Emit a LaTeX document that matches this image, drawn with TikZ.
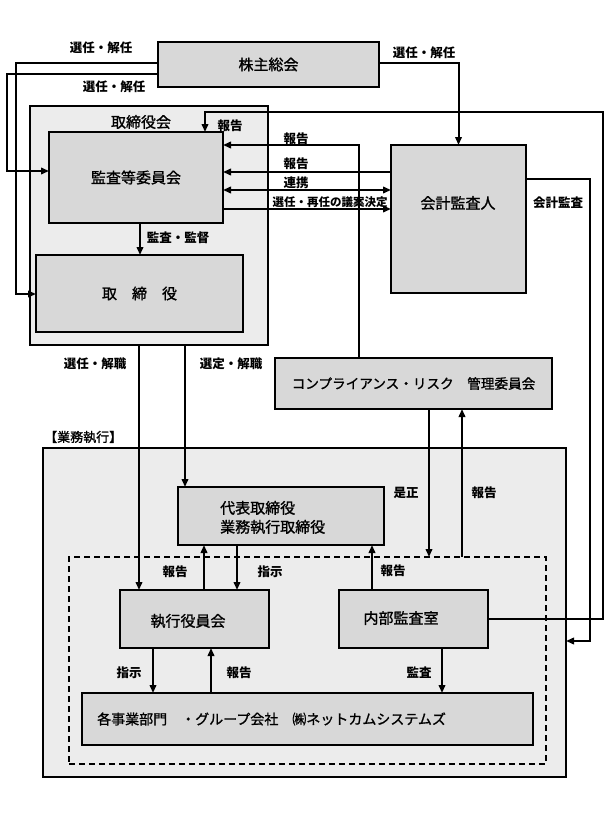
\documentclass[tikz,border=0pt]{standalone}
\usepackage{fontspec}
\setmainfont{Noto Sans CJK JP}
\newfontfamily\boxfont[FakeBold=1.2]{Noto Sans CJK JP}
\usetikzlibrary{arrows.meta}
\definecolor{boxgray}{HTML}{D8D8D8}
\definecolor{panelgray}{HTML}{ECECEC}
\begin{document}
\begin{tikzpicture}[x=1pt,y=-1pt,
  box/.style={draw=black, line width=2.4pt, fill=boxgray, inner sep=0pt, outer sep=0pt, font=\boxfont\fontsize{15}{19}\selectfont},
  panel/.style={draw=black, line width=2.4pt, fill=panelgray, inner sep=0pt, outer sep=0pt},
  conn/.style={line width=2pt, -{Triangle[length=8pt,width=6.5pt]}},
  lbl/.style={font=\bfseries\fontsize{12.5}{14}\selectfont, inner sep=0pt},
  big/.style={font=\boxfont\fontsize{15}{19}\selectfont, inner sep=0pt},
  ]
\useasboundingbox (0,0) rectangle (614,819);

% panels
\node[panel, minimum width=238, minimum height=239] (torikai) at (149,225.5) {};
\node[panel, minimum width=523, minimum height=329] (gyomu) at (304.5,612.5) {};
\node[draw=black, line width=2pt, dash pattern=on 6pt off 4pt, inner sep=0pt, outer sep=0pt,
      minimum width=477, minimum height=207] (exec) at (307.5,660.5) {};

% boxes
\node[box, minimum width=221, minimum height=45] (kabu) at (268.5,64.5) {株主総会};
\node[big] (torikait) at (141,122) {取締役会};
\node[box, minimum width=174, minimum height=91] (kansa) at (136,177.5) {監査等委員会};
\node[box, minimum width=207, minimum height=77] (tori) at (139.5,293.5) {取　締　役};
\node[box, minimum width=135, minimum height=148] (kaikei) at (458.5,219) {};
\node[big] (kaikeit) at (458,203) {会計監査人};
\node[box, minimum width=277, minimum height=51, font=\boxfont\fontsize{13.6}{16}\selectfont] (comp) at (413.5,383.5) {コンプライアンス・リスク　管理委員会};
\node[anchor=west, inner sep=0pt, font=\boxfont\fontsize{13}{15}\selectfont] (gyomut) at (44,437) {【業務執行】};
\node[box, minimum width=206, minimum height=58] (daihyo) at (281,516) {};
\node[big, align=left, anchor=west] (daihyot) at (220,517.5) {代表取締役\\業務執行取締役};
\node[box, minimum width=149, minimum height=58] (shikko) at (194.5,619) {};
\node[big] (shikkot) at (188,621) {執行役員会};
\node[box, minimum width=149, minimum height=58] (naibu) at (413.5,619) {};
\node[big] (naibut) at (401,618) {内部監査室};
\node[box, minimum width=451, minimum height=52] (kaku) at (307.5,719) {};
\node[big, anchor=west, font=\boxfont\fontsize{14}{16}\selectfont] (kakut) at (97,719) {各事業部門　・グループ会社　㈱ネットカムシステムズ};

% connectors from shareholders meeting
\draw[conn] (kabu.west |- 0,63) -- (16,63) -- (16,294) -- (tori.west |- 0,294);
\node[lbl] (l1) at (101,48) {選任・解任};
\draw[conn] (kabu.west |- 0,74) -- (7,74) -- (7,171) -- (kansa.west |- 0,171);
\node[lbl] (l2) at (114,87) {選任・解任};
\draw[conn] (kabu.east |- 0,63) -- (458.5,63) -- (kaikei.north);
\node[lbl] (l3) at (424,53) {選任・解任};

% internal audit report loop to audit committee
\draw[conn] (naibu.east) -- (603,619) -- (603,112) -- (205,112) -- (kansa.north -| 205,0);
\node[lbl] (l4) at (230,126) {報告};

% accounting audit
\draw[conn] (kaikei.east |- 0,179) -- (590,179) -- (590,641) -- (gyomu.east |- 0,641);
\node[lbl] (l5) at (558,203) {会計監査};

% between audit committee and accounting auditor
\draw[conn] (comp.north -| 359,0) -- (359,145) -- (kansa.east |- 0,145);
\node[lbl] (l6) at (296,139) {報告};
\draw[conn] (kaikei.west |- 0,172) -- (kansa.east |- 0,172);
\node[lbl] (l7) at (296,164) {報告};
\draw[line width=2pt, {Triangle[length=8pt,width=6.5pt]}-{Triangle[length=8pt,width=6.5pt]}] (kansa.east |- 0,190) -- (kaikei.west |- 0,190);
\node[lbl] (l8) at (296,183) {連携};
\draw[conn] (kansa.east |- 0,209) -- (kaikei.west |- 0,209);
\node[lbl, font=\bfseries\fontsize{11.5}{13}\selectfont] (l9) at (330,202) {選任・再任の議案決定};

% audit committee -> directors
\draw[conn] (kansa.south -| 140,0) -- (tori.north -| 140,0);
\node[lbl] (l10) at (178,238) {監査・監督};

% board -> execution
\draw[conn] (torikai.south -| 139,0) -- (shikko.north -| 139,0);
\node[lbl] (l11) at (95,364) {選任・解職};
\draw[conn] (torikai.south -| 185,0) -- (daihyo.north -| 185,0);
\node[lbl] (l12) at (231,364) {選定・解職};

% compliance
\draw[conn] (comp.south -| 429,0) -- (exec.north -| 429,0);
\node[lbl] (l13) at (406,493) {是正};
\draw[conn] (exec.north -| 462,0) -- (comp.south -| 462,0);
\node[lbl] (l14) at (484,493) {報告};

% representative <-> executive committee
\draw[conn] (shikko.north -| 204,0) -- (daihyo.south -| 204,0);
\node[lbl] (l15) at (175,572) {報告};
\draw[conn] (daihyo.south -| 237,0) -- (shikko.north -| 237,0);
\node[lbl] (l16) at (270,572) {指示};
\draw[conn] (naibu.north -| 372,0) -- (daihyo.south -| 372,0);
\node[lbl] (l17) at (393,571) {報告};

% to business units
\draw[conn] (shikko.south -| 153,0) -- (kaku.north -| 153,0);
\node[lbl] (l18) at (129,673) {指示};
\draw[conn] (kaku.north -| 211,0) -- (shikko.south -| 211,0);
\node[lbl] (l19) at (239,673) {報告};
\draw[conn] (naibu.south -| 442,0) -- (kaku.north -| 442,0);
\node[lbl] (l20) at (419,673) {監査};
\end{tikzpicture}
\end{document}
